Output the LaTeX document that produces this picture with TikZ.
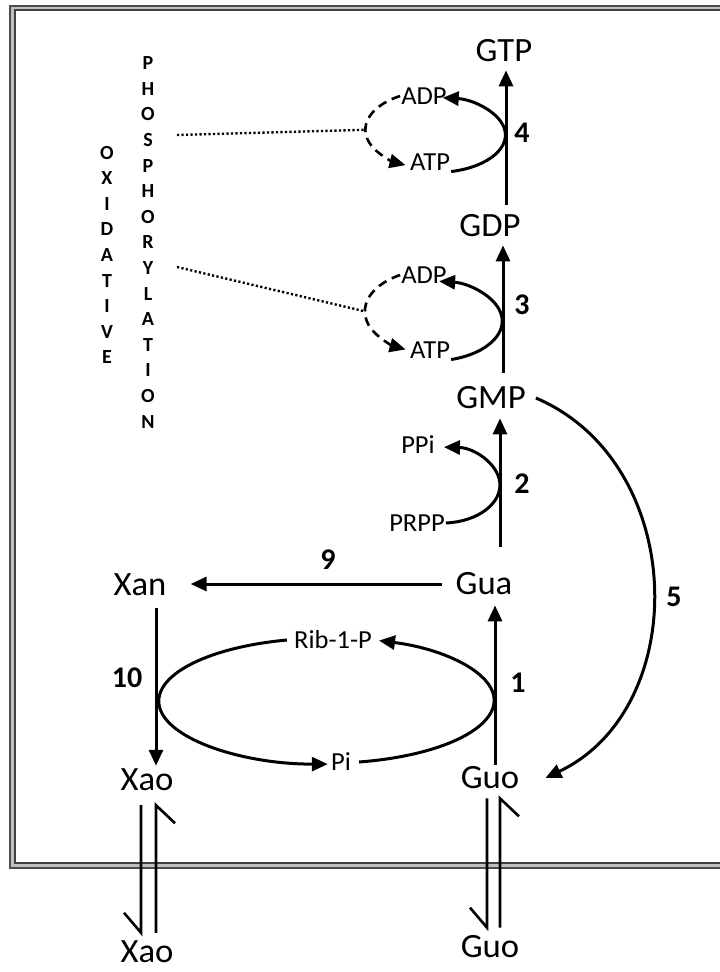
\documentclass[tikz,border=0pt]{standalone}
\usepackage{fontspec}
\setmainfont{Carlito}
\newfontfamily\labfont{Carlito}[FakeStretch=1.02]
\usetikzlibrary{arrows.meta,calc}

\begin{document}
\begin{tikzpicture}[x=1pt,y=-1pt,
  met/.style={font=\labfont\fontsize{34}{34}\selectfont, inner sep=2pt},
  cof/.style={font=\labfont\fontsize{26}{26}\selectfont, inner sep=1pt},
  enz/.style={font=\bfseries\fontsize{30}{30}\selectfont, inner sep=0pt},
  vert/.style={font=\bfseries\fontsize{20}{25.6}\selectfont, align=center, inner sep=0pt},
  flow/.style={line width=3pt},
  headed/.style={-{Triangle[length=16pt,width=14pt]}},
  dashedloop/.style={line width=2.6pt, dash pattern=on 9pt off 6pt},
  dotlink/.style={line width=2.4pt, dash pattern=on 2.2pt off 2.3pt},
  harp/.style={line width=2.6pt},
]
% page and double frame
\fill[white] (0,0) rectangle (720,972);
\useasboundingbox (0,0) rectangle (720,972);
\draw[gray!50, line width=4pt] (12,7.75) rectangle (760,865.25);
\draw[black!70, line width=2pt] (9.5,5.5) rectangle (760,867.5);
\draw[black!75, line width=2pt] (14.5,10) rectangle (760,863);

% metabolites
\node[met] (GTP) at (504,51) {GTP};
\node[met] (GDP) at (490,226) {GDP};
\node[met] (GMP) at (491,398) {GMP};
\node[met] (Gua) at (484,584) {Gua};
\node[met] (Guo) at (490,778) {Guo};
\node[met] (Xan) at (140,585) {Xan};
\node[met] (Xao) at (147,780) {Xao};
\node[met] (XaoOut) at (147,952) {Xao};
\node[met] (GuoOut) at (490,947) {Guo};

% co-substrates
\node[cof] (ADP4) at (424,96) {ADP};
\node[cof] (ATP4) at (430,162) {ATP};
\node[cof] (ADP3) at (424,275) {ADP};
\node[cof] (ATP3) at (430,350) {ATP};
\node[cof] (PPi) at (418,445) {PPi};
\node[cof] (PRPP) at (417,523) {PRPP};
\node[cof, inner xsep=7pt] (Rib) at (333,640) {Rib-1-P};
\node[cof, inner xsep=8pt] (Pi) at (341,762) {Pi};

% enzyme numbers
\node[enz] (e4) at (522,133) {4};
\node[enz] (e3) at (522,305) {3};
\node[enz] (e2) at (522,484) {2};
\node[enz] (e1) at (518,683) {1};
\node[enz] (e5) at (674,597) {5};
\node[enz] (e9) at (328,560) {9};
\node[enz] (e10) at (127,678) {10};

% vertical captions
\node[vert] (phos) at (148,242.5) {P\\H\\O\\S\\P\\H\\O\\R\\Y\\L\\A\\T\\I\\O\\N};
\node[vert] (oxid) at (107,255) {O\\X\\I\\D\\A\\T\\I\\V\\E};

% columns of the vertical reactions
\coordinate (c4) at (506,0);
\coordinate (c3) at (503,0);
\coordinate (c2) at (500,0);
\coordinate (c1) at (495,0);
\coordinate (c10) at (156,0);
\coordinate (hxa) at (141,0);
\coordinate (hxb) at (156,0);
\coordinate (hga) at (487,0);
\coordinate (hgb) at (500,0);

% main reactions
\draw[flow,headed,shorten <=8pt,shorten >=6pt] (GDP.north -| c4) -- (GTP.south -| c4);
\draw[flow,headed,shorten <=12pt,shorten >=6pt] (GMP.north -| c3) -- (GDP.south -| c3);
\draw[flow,headed,shorten <=24pt,shorten >=7pt] (Gua.north -| c2) -- (GMP.south -| c2);
\draw[flow,headed,shorten >=8pt] (Guo.north -| c1) -- (Gua.south -| c1);
\draw[flow,headed,shorten <=10pt,shorten >=1pt] (Xan.south -| c10) -- (Xao.north -| c10);
\draw[flow,headed,shorten <=11pt,shorten >=22pt] (Gua.west) -- (Gua.west -| Xan.east);
\draw[flow,headed] ([xshift=8pt]GMP.east) .. controls +(152,65) and +(147,-70) .. ([xshift=24pt]Guo.east);

% ATP/ADP loop of reaction 4
\draw[flow,headed] (ATP4.south east) arc[start angle=-77,end angle=84,x radius=70pt,y radius=37.5pt];
\draw[dashedloop,headed] (ADP4.west) arc[start angle=120,end angle=245,x radius=69.5pt,y radius=39pt];
\path (ADP4.west) arc[start angle=120,end angle=180,x radius=69.5pt,y radius=39pt] coordinate (d4);

% ATP/ADP loop of reaction 3
\draw[flow,headed] (ATP3.south east) arc[start angle=-74,end angle=84,x radius=70.5pt,y radius=40pt];
\draw[dashedloop,headed] (ADP3.west) arc[start angle=120,end angle=245,x radius=70.5pt,y radius=42pt];
\path (ADP3.west) arc[start angle=120,end angle=180,x radius=70.5pt,y radius=42pt] coordinate (d3);

% PRPP/PPi of reaction 2
\draw[flow,headed] (PRPP.east) arc[start angle=-86,end angle=88,x radius=58pt,y radius=38pt];

% ribose-1-phosphate / phosphate cycle
\draw[flow,headed] (Rib.west) arc[start angle=104,end angle=270,x radius=169pt,y radius=63pt];
\draw[flow,headed] (Pi.east) arc[start angle=-78.4,end angle=71.4,x radius=169pt,y radius=63pt];

% links to oxidative phosphorylation
\coordinate (o4) at (177,135);
\coordinate (o3) at (177,267);
\draw[dotlink] (o4) -- (d4);
\draw[dotlink] (o3) -- (d3);

% exchange across the membrane
\draw[harp] ($(Xao.south -| hxa)+(0,12)$) -- ($(XaoOut.north -| hxa)+(0,-6)$) -- ++(-17,-20);
\draw[harp] ($(XaoOut.north -| hxb)+(0,-6)$) -- ($(Xao.south -| hxb)+(0,12)$) -- ++(19,18);
\draw[harp] ($(Guo.south -| hga)+(0,7)$) -- ($(GuoOut.north -| hga)+(0,-6)$) -- ++(-17,-20);
\draw[harp] ($(GuoOut.north -| hgb)+(0,-6)$) -- ($(Guo.south -| hgb)+(0,7)$) -- ++(19,18);
\end{tikzpicture}
\end{document}
